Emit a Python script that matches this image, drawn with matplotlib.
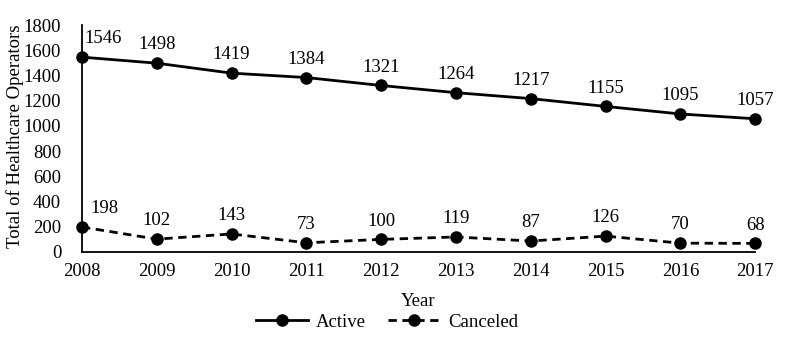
import matplotlib.pyplot as plt

years = [2008, 2009, 2010, 2011, 2012, 2013, 2014, 2015, 2016, 2017]
active = [1546, 1498, 1419, 1384, 1321, 1264, 1217, 1155, 1095, 1057]
canceled = [198, 102, 143, 73, 100, 119, 87, 126, 70, 68]

plt.rcParams['font.family'] = ['Liberation Serif', 'DejaVu Serif']

fig = plt.figure(figsize=(8, 3.49), dpi=100)
ax = fig.add_axes([0.1025, 0.278, 0.8415, 0.65])

ax.plot(years, active, color='black', lw=2, marker='o', ms=8, clip_on=False, label='Active')
ax.plot(years, canceled, color='black', lw=2, ls=(0, (3, 2)), marker='o', ms=8, clip_on=False,
        label='Canceled')

# value labels
for i, (x, y) in enumerate(zip(years, active)):
    dx = 15 if i == 0 else 0
    ax.annotate(str(y), (x, y), xytext=(dx, 7), textcoords='offset points', ha='center', va='bottom', fontsize=13.5)
for i, (x, y) in enumerate(zip(years, canceled)):
    dx = 16 if i == 0 else 0
    ax.annotate(str(y), (x, y), xytext=(dx, 7), textcoords='offset points', ha='center', va='bottom', fontsize=13.5)

ax.set_xlim(2008, 2017)
ax.set_ylim(0, 1800)
ax.set_yticks(range(0, 1801, 200))
ax.set_xticks(years)
ax.tick_params(length=0, labelsize=13.5, pad=8)
ax.tick_params(axis='y', pad=15)
for s in ['top', 'right']:
    ax.spines[s].set_visible(False)
ax.spines['left'].set_linewidth(1.3)
ax.spines['bottom'].set_linewidth(1.3)

ax.set_xlabel('Year', fontsize=13.5, labelpad=9)
ax.set_ylabel('Total of Healthcare Operators', fontsize=13.5, va='center')
ax.yaxis.set_label_coords(-0.1, 0.51)

ax.legend(loc='center', bbox_to_anchor=(0.453, -0.31), ncol=2, frameon=False, fontsize=13.5,
          handlelength=2.8, columnspacing=1.2, handletextpad=0.4)

plt.savefig('out.png')
